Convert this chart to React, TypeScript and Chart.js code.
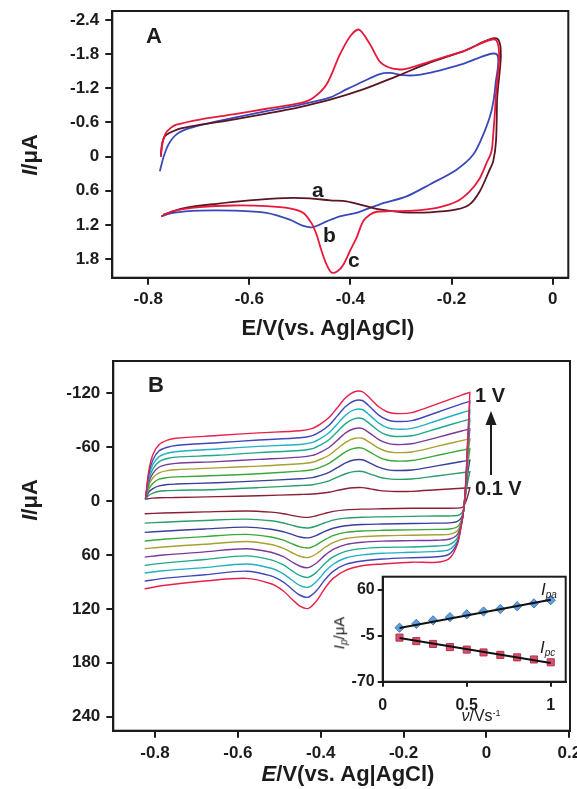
import React, { useEffect, useRef } from "react";
import { Chart, registerables } from "chart.js";

Chart.register(...registerables);

const FONT = "'Liberation Sans', Arial, Helvetica, sans-serif";
const INK = "#1c1c1c";

// ================= Panel A =================
const A_X_TICKS = [-0.8, -0.6, -0.4, -0.2, 0];
const A_X_TICK_LABELS = ["-0.8", "-0.6", "-0.4", "-0.2", "0"];
const A_Y_TICKS = [-2.4, -1.8, -1.2, -0.6, 0, 0.6, 1.2, 1.8];
const A_Y_TICK_LABELS = ["-2.4", "-1.8", "-1.2", "-0.6", "0", "0.6", "1.2", "1.8"];

// curve a (dark)
const A_a_E = [-0.775, -0.773, -0.767, -0.744, -0.715, -0.632, -0.566, -0.5, -0.44, -0.375, -0.309, -0.243, -0.177, -0.1076,
  -0.110, -0.112, -0.1175, -0.126, -0.144, -0.164, -0.190, -0.243, -0.296, -0.342, -0.375, -0.408, -0.44, -0.48, -0.53, -0.60, -0.665, -0.731, -0.770];
const A_a_I = [0, -0.2, -0.36, -0.47, -0.53, -0.65, -0.755, -0.87, -1.0, -1.18, -1.41, -1.65, -1.85, -2.056,
  -0.97, -0.27, 0.08, 0.26, 0.61, 0.84, 0.93, 0.98, 0.98, 0.93, 0.856, 0.786, 0.77, 0.735, 0.73, 0.77, 0.83, 0.91, 1.02];
// curve b (blue)
const A_b_E = [-0.777, -0.770, -0.760, -0.744, -0.718, -0.632, -0.566, -0.5, -0.44, -0.408, -0.375, -0.342, -0.322, -0.296, -0.269, -0.229, -0.177, -0.111,
  -0.113, -0.121, -0.137, -0.157, -0.190, -0.243, -0.289, -0.342, -0.388, -0.421, -0.447, -0.474, -0.493, -0.520, -0.566, -0.632, -0.698, -0.751, -0.774];
const A_b_I = [0.26, 0.02, -0.21, -0.39, -0.50, -0.68, -0.80, -0.91, -1.04, -1.18, -1.32, -1.45, -1.47, -1.43, -1.43, -1.50, -1.63, -1.80,
  -1.27, -0.80, -0.39, -0.035, 0.23, 0.49, 0.70, 0.84, 0.99, 1.05, 1.14, 1.24, 1.22, 1.11, 0.99, 0.95, 0.95, 0.99, 1.05];
// curve c (red)
const A_c_E = [-0.775, -0.772, -0.766, -0.756, -0.744, -0.698, -0.632, -0.566, -0.5, -0.474, -0.447, -0.421, -0.40, -0.383, -0.361, -0.342, -0.325, -0.302, -0.282, -0.243, -0.177, -0.111,
  -0.113, -0.1175, -0.121, -0.131, -0.144, -0.164, -0.190, -0.229, -0.276, -0.322, -0.348, -0.361, -0.375, -0.388, -0.401, -0.414, -0.425, -0.437, -0.447, -0.457, -0.467, -0.477, -0.493, -0.520, -0.566, -0.632, -0.698, -0.751, -0.774];
const A_c_I = [0, -0.22, -0.40, -0.50, -0.56, -0.65, -0.74, -0.84, -0.94, -1.03, -1.27, -1.79, -2.12, -2.23, -1.97, -1.67, -1.57, -1.53, -1.56, -1.67, -1.85, -2.04,
  -0.97, -0.39, -0.09, 0.12, 0.38, 0.61, 0.79, 0.90, 0.95, 0.96, 0.97, 1.02, 1.14, 1.43, 1.66, 1.90, 2.01, 2.04, 1.90, 1.66, 1.37, 1.17, 0.99, 0.91, 0.87, 0.86, 0.89, 0.96, 1.05];
const A_NAMES = ["c", "a", "b"];
const A_COLORS = ["#e8183c", "#5a1520", "#3a48b8"];

// ================= Panel B =================
const B_X_TICKS = [-0.8, -0.6, -0.4, -0.2, 0, 0.2];
const B_X_TICK_LABELS = ["-0.8", "-0.6", "-0.4", "-0.2", "0", "0.2"];
const B_Y_TICKS = [-120, -60, 0, 60, 120, 180, 240];
const B_Y_TICK_LABELS = ["-120", "-60", "0", "60", "120", "180", "240"];
const B_SCAN_RATES = ["0.1", "0.2", "0.3", "0.4", "0.5", "0.6", "0.7", "0.8", "0.9", "1.0"];
const B_COLORS = ["#8b2035", "#2a9e6a", "#3a3f9a", "#3aa83a", "#a8a030", "#7a3a9a", "#1fa88a", "#22b0c4", "#4048b8", "#e8204a"];

const B_E_FWD = [-0.823, -0.815, -0.805, -0.79, -0.77, -0.75, -0.65, -0.55, -0.45, -0.42, -0.40, -0.38, -0.36, -0.34, -0.32, -0.30, -0.28, -0.26, -0.24, -0.22, -0.18, -0.12, -0.06, -0.04];
const B_E_REV = [-0.04, -0.045, -0.05, -0.055, -0.06, -0.07, -0.09, -0.12, -0.18, -0.25, -0.30, -0.34, -0.37, -0.39, -0.41, -0.43, -0.45, -0.47, -0.49, -0.52, -0.58, -0.68, -0.78, -0.825];

const B_FWD_01 = [-2, -2.8, -3.3, -3.7, -3.9, -4, -5, -6, -7.4, -7.9, -8.7, -9.9, -11.9, -13.8, -14.9, -15.0, -13.6, -12.0, -11.1, -10.7, -10.9, -12.6, -14.3, -14.8];
const B_FWD_02 = [-2, -6.5, -9, -11, -11.7, -12, -13, -15, -17.4, -18.3, -20.1, -22.6, -26.6, -30.5, -32.8, -33.0, -30.1, -26.9, -25.0, -24.2, -24.6, -28.0, -31.6, -32.7];
const B_FWD_03 = [-2, -10, -14, -17, -18.5, -19, -20.5, -22.5, -24.9, -26.2, -28.6, -32.0, -37.3, -42.6, -45.8, -46.0, -42.1, -37.8, -35.1, -34.1, -34.6, -39.2, -44.1, -45.5];
const B_FWD_04 = [-2, -13.5, -20, -24.5, -26.2, -27, -28.5, -30.5, -33.4, -34.9, -37.9, -42.0, -48.4, -54.9, -58.7, -59.0, -54.3, -49.0, -45.8, -44.6, -45.2, -50.8, -56.6, -58.4];
const B_FWD_05 = [-2, -17.5, -26, -31.5, -34, -35, -37, -39, -41.6, -43.3, -46.6, -51.1, -58.3, -65.4, -69.7, -70.0, -64.8, -58.9, -55.3, -54.0, -54.7, -60.9, -67.4, -69.3];
const B_FWD_06 = [-2, -21, -31, -38, -40.8, -42, -44, -46.5, -49, -50.9, -54.6, -59.7, -67.8, -75.9, -80.6, -81.0, -75.1, -68.5, -64.5, -63.0, -63.8, -70.7, -78.1, -80.3];
const B_FWD_07 = [-2, -24, -36, -44, -47.5, -49, -51, -54, -56.4, -58.5, -62.6, -68.3, -77.3, -86.3, -91.6, -92.0, -85.5, -78.1, -73.6, -72.0, -72.8, -80.6, -88.8, -91.2];
const B_FWD_08 = [-2, -27, -41, -49.5, -53.3, -55, -58, -61, -63.1, -65.4, -69.9, -76.1, -85.9, -95.7, -101.5, -102.0, -94.9, -86.8, -81.9, -80.1, -81.0, -89.5, -98.4, -101.1];
const B_FWD_09 = [-2, -30.5, -46, -56, -60, -62, -65, -68, -70.5, -73.0, -77.7, -84.4, -94.9, -105.3, -111.5, -112.0, -104.4, -95.8, -90.6, -88.7, -89.6, -98.7, -108.2, -111.1];
const B_FWD_10 = [-3, -34, -52, -63, -68, -70, -73, -76, -78.4, -81, -86, -93, -104, -115, -121.5, -122, -114, -105, -99.5, -97.5, -98.5, -108, -118, -121];

const B_REV_01 = [-14.8, -6, 1, 5.5, 7.2, 7.8, 8, 8, 8, 8.5, 8.9, 9.7, 11.4, 13.6, 16.3, 18.1, 17.5, 15.9, 14.0, 12.3, 11, 12, 13.3, 14];
const B_REV_02 = [-32.7, -22, -7, 8, 13.5, 16, 16.5, 16.5, 17, 17.5, 17.9, 18.9, 21.2, 24.1, 27.7, 29.9, 29.1, 26.8, 24.3, 21.9, 20, 21.5, 23.5, 24.5];
const B_REV_03 = [-45.5, -32, -10, 9, 18, 22.5, 24.2, 24.5, 25, 25.5, 26.0, 27.4, 30.2, 33.7, 38.2, 40.9, 39.9, 37.1, 34.1, 31.3, 29, 31, 33.5, 34.8];
const B_REV_04 = [-58.4, -40, -12, 10, 21, 28.5, 31, 31.5, 32, 32.5, 33.2, 34.8, 38.4, 42.9, 48.6, 52.1, 50.9, 47.4, 43.5, 39.9, 37, 39.5, 42.5, 44.5];
const B_REV_05 = [-69.3, -48, -14, 10, 23, 33, 37, 37.5, 38, 38.5, 39.5, 41.6, 46.1, 51.6, 58.6, 62.8, 61.4, 57.2, 52.6, 48.3, 45, 48, 51, 53];
const B_REV_06 = [-80.3, -55, -16, 10, 24, 37, 42.5, 43.5, 44, 44.5, 45.8, 48.4, 53.8, 60.4, 68.9, 74.0, 72.5, 67.5, 61.9, 56.9, 53, 56.5, 60, 62.3];
const B_REV_07 = [-91.2, -60, -18, 10, 25, 41, 48.5, 50, 51, 51.5, 52.9, 55.9, 62.0, 69.4, 79.0, 84.9, 83.0, 77.3, 71.1, 65.4, 61, 65, 69, 71.6];
const B_REV_08 = [-101.1, -65, -20, 10, 25, 44, 54, 56, 57, 58, 59.8, 63.3, 70.3, 78.7, 89.4, 95.9, 94.0, 87.8, 80.9, 74.7, 70, 74, 77.5, 80.1];
const B_REV_09 = [-111.1, -70, -20, 10, 25, 46, 59, 62, 63, 64.5, 66.6, 70.4, 78.2, 87.6, 99.6, 107.0, 104.8, 97.8, 90.1, 83.2, 78, 82, 86, 89.1];
const B_REV_10 = [-121, -70, -20, 10, 25, 48, 64, 68, 68, 70, 72, 77, 86, 97, 111, 119.5, 117, 109, 100, 92, 86, 89, 94, 97.6];

const B_FWD = [B_FWD_01, B_FWD_02, B_FWD_03, B_FWD_04, B_FWD_05, B_FWD_06, B_FWD_07, B_FWD_08, B_FWD_09, B_FWD_10];
const B_REV = [B_REV_01, B_REV_02, B_REV_03, B_REV_04, B_REV_05, B_REV_06, B_REV_07, B_REV_08, B_REV_09, B_REV_10];

// ================= Inset =================
const IN_X_TICKS = [0, 0.5, 1];
const IN_X_TICK_LABELS = ["0", "0.5", "1"];
const IN_Y_TICKS = [-70, -5, 60];
const IN_Y_TICK_LABELS = ["-70", "-5", "60"];
const IN_V = [0.1, 0.2, 0.3, 0.4, 0.5, 0.6, 0.7, 0.8, 0.9, 1.0];
const IN_IPA = [6.5, 12, 17, 21.5, 25.5, 29.5, 33, 37, 41, 45.5];
const IN_IPC = [-7.5, -12.5, -16.5, -21, -24.5, -28.5, -32, -35.5, -38.5, -42.5];
const IN_FIT_V = [0.1, 1.0];
const IN_FIT_IPA = [6, 46];
const IN_FIT_IPC = [-8, -43.5];

// ================= helpers =================
const framePlugin = {
  id: "frame",
  afterDraw(chart: any) {
    const { ctx, chartArea: a } = chart;
    ctx.save();
    ctx.strokeStyle = INK;
    ctx.lineWidth = 2;
    ctx.strokeRect(a.left, a.top, a.right - a.left, a.bottom - a.top);
    ctx.restore();
  },
};

function setTicks(values: number[]) {
  return (scale: any) => {
    scale.ticks = values.map((v) => ({ value: v }));
  };
}
function fixSize(prop: "width" | "height", size: number) {
  return (scale: any) => {
    scale[prop] = size;
    scale.paddingLeft = 0;
    scale.paddingRight = 0;
    scale.paddingTop = 0;
    scale.paddingBottom = 0;
  };
}
function axis(opts: {
  min: number; max: number; ticks: number[]; labels: string[]; size: number; fit: ["width" | "height", number];
  tickLength: number; padding: number; reverse?: boolean;
}) {
  return {
    type: "linear",
    min: opts.min,
    max: opts.max,
    reverse: !!opts.reverse,
    afterBuildTicks: setTicks(opts.ticks),
    afterFit: fixSize(opts.fit[0], opts.fit[1]),
    grid: { display: true, drawOnChartArea: false, drawTicks: true, tickLength: opts.tickLength, tickWidth: 2, tickColor: INK, color: INK, lineWidth: 2 },
    border: { display: true, color: INK, width: 2 },
    ticks: {
      color: INK,
      font: { family: FONT, size: opts.size, weight: "bold" },
      autoSkip: false,
      maxRotation: 0,
      minRotation: 0,
      padding: opts.padding,
      callback: (_v: any, i: number) => opts.labels[i],
    },
  };
}
const baseOptions = {
  animation: false,
  responsive: false,
  devicePixelRatio: 1,
  events: [],
  plugins: { legend: { display: false }, tooltip: { enabled: false } },
};

function buildA() {
  const curves = [
    { E: A_c_E, I: A_c_I },
    { E: A_a_E, I: A_a_I },
    { E: A_b_E, I: A_b_I },
  ];
  const datasets = curves.map((c, k) => ({
    label: A_NAMES[k],
    data: c.E.map((x, j) => ({ x, y: c.I[j] })),
    borderColor: A_COLORS[k],
    borderWidth: 1.8,
    pointRadius: 0,
    tension: 0.3,
    fill: false,
  }));
  return {
    type: "line",
    data: { datasets },
    options: {
      ...baseOptions,
      layout: { padding: { top: 11, right: 8.7, left: 0, bottom: 0 } },
      scales: {
        x: axis({ min: -0.871, max: 0.031, ticks: A_X_TICKS, labels: A_X_TICK_LABELS, size: 17, fit: ["height", 62.3], tickLength: 7, padding: 4 }),
        y: axis({ min: -2.558, max: 2.129, reverse: true, ticks: A_Y_TICKS, labels: A_Y_TICK_LABELS, size: 17, fit: ["width", 112.3], tickLength: 7, padding: 6 }),
      },
    },
    plugins: [framePlugin],
  };
}

const ARROW = { x: 491, yTail: 475, yTip: 411 };
const B_TOP = 340;

function buildB() {
  const order = [9, 8, 7, 6, 5, 4, 3, 2, 1, 0];
  const datasets = order.map((i) => ({
    label: B_SCAN_RATES[i] + " V/s",
    data: [
      ...B_E_FWD.map((x, j) => ({ x, y: B_FWD[i][j] })),
      ...B_E_REV.map((x, j) => ({ x, y: B_REV[i][j] })),
    ],
    borderColor: B_COLORS[i],
    borderWidth: 1.4,
    pointRadius: 0,
    tension: 0.3,
    fill: false,
  }));
  const arrowPlugin = {
    id: "arrow",
    afterDraw(chart: any) {
      const ctx = chart.ctx;
      ctx.save();
      ctx.strokeStyle = INK;
      ctx.fillStyle = INK;
      ctx.lineWidth = 2;
      ctx.beginPath();
      ctx.moveTo(ARROW.x, ARROW.yTail - B_TOP);
      ctx.lineTo(ARROW.x, ARROW.yTip + 12 - B_TOP);
      ctx.stroke();
      ctx.beginPath();
      ctx.moveTo(ARROW.x, ARROW.yTip - B_TOP);
      ctx.lineTo(ARROW.x - 5.5, ARROW.yTip + 14 - B_TOP);
      ctx.lineTo(ARROW.x + 5.5, ARROW.yTip + 14 - B_TOP);
      ctx.closePath();
      ctx.fill();
      ctx.restore();
    },
  };
  return {
    type: "line",
    data: { datasets },
    options: {
      ...baseOptions,
      layout: { padding: { top: 21, right: 7, left: 0, bottom: 0 } },
      scales: {
        x: axis({ min: -0.9007, max: 0.2017, ticks: B_X_TICKS, labels: B_X_TICK_LABELS, size: 17, fit: ["height", 58.3], tickLength: 7, padding: 5 }),
        y: axis({ min: -156, max: 255.6, reverse: true, ticks: B_Y_TICKS, labels: B_Y_TICK_LABELS, size: 17, fit: ["width", 113.3], tickLength: 7, padding: 6 }),
      },
    },
    plugins: [framePlugin, arrowPlugin],
  };
}

function buildInset() {
  const datasets = [
    { label: "fit pa", data: IN_FIT_V.map((x, j) => ({ x, y: IN_FIT_IPA[j] })), borderColor: "#111", borderWidth: 2, pointRadius: 0 },
    { label: "fit pc", data: IN_FIT_V.map((x, j) => ({ x, y: IN_FIT_IPC[j] })), borderColor: "#111", borderWidth: 2, pointRadius: 0 },
    {
      label: "Ipa", data: IN_V.map((x, j) => ({ x, y: IN_IPA[j] })), showLine: false,
      pointStyle: "rectRot", pointRadius: 4.6, pointBackgroundColor: "#5f9fdc", pointBorderColor: "#3c78b8", pointBorderWidth: 1,
    },
    {
      label: "Ipc", data: IN_V.map((x, j) => ({ x, y: IN_IPC[j] })), showLine: false,
      pointStyle: "rect", pointRadius: 5, pointBackgroundColor: "#d8506c", pointBorderColor: "#b43454", pointBorderWidth: 1,
    },
  ];
  return {
    type: "line",
    data: { datasets },
    options: {
      ...baseOptions,
      layout: { padding: { top: 8.7, right: 9.3, left: 0, bottom: 0 } },
      scales: {
        x: axis({ min: 0, max: 1.089, ticks: IN_X_TICKS, labels: IN_X_TICK_LABELS, size: 16, fit: ["height", 46.3], tickLength: 5, padding: 9 }),
        y: axis({ min: -70, max: 78.8, ticks: IN_Y_TICKS, labels: IN_Y_TICK_LABELS, size: 16, fit: ["width", 52.7], tickLength: 5, padding: 3 }),
      },
    },
    plugins: [framePlugin],
  };
}

function ChartCanvas(props: { left: number; top: number; width: number; height: number; build: () => any }) {
  const ref = useRef<HTMLCanvasElement | null>(null);
  useEffect(() => {
    const chart = new Chart(ref.current as HTMLCanvasElement, props.build());
    return () => chart.destroy();
  }, []);
  return (
    <canvas
      ref={ref}
      width={props.width}
      height={props.height}
      style={{ position: "absolute", left: props.left, top: props.top, width: props.width, height: props.height }}
    />
  );
}

// text placed by baseline
function T(props: { x: number; base: number; size: number; bold?: boolean; center?: boolean; children: any }) {
  return (
    <div
      style={{
        position: "absolute",
        left: props.x,
        top: props.base - 0.8465 * props.size,
        fontSize: props.size,
        lineHeight: 1,
        fontWeight: props.bold === false ? 400 : 700,
        whiteSpace: "nowrap",
        transform: props.center ? "translateX(-50%)" : undefined,
      }}
    >
      {props.children}
    </div>
  );
}
function RotT(props: { cx: number; cy: number; size: number; bold?: boolean; children: any }) {
  return (
    <div
      style={{
        position: "absolute",
        left: props.cx,
        top: props.cy,
        fontSize: props.size,
        lineHeight: 1,
        fontWeight: props.bold === false ? 400 : 700,
        whiteSpace: "nowrap",
        transform: "translate(-50%, -50%) rotate(-90deg)",
      }}
    >
      {props.children}
    </div>
  );
}

export default function App() {
  return (
    <div style={{ position: "absolute", left: 0, top: 0, width: 577, height: 789, background: "#fff", overflow: "hidden", fontFamily: FONT, color: INK }}>
      <ChartCanvas left={0} top={0} width={577} height={340} build={buildA} />
      <ChartCanvas left={0} top={340} width={577} height={449} build={buildB} />
      <ChartCanvas left={330} top={568} width={245} height={160} build={buildInset} />

      {/* Panel A texts */}
      <T x={146} base={44} size={22}>A</T>
      <T x={312} base={197} size={21}>a</T>
      <T x={323} base={242} size={21}>b</T>
      <T x={348} base={267} size={21}>c</T>
      <T x={328} base={336} size={22} center>E/V(vs. Ag|AgCl)</T>
      <RotT cx={30} cy={155} size={22}><i>I</i>/μA</RotT>

      {/* Panel B texts */}
      <T x={148} base={393} size={22}>B</T>
      <T x={475} base={402} size={20}>1 V</T>
      <T x={475} base={495} size={20}>0.1 V</T>
      <T x={348} base={782} size={22} center><i>E</i>/V(vs. Ag|AgCl)</T>
      <RotT cx={30} cy={500} size={22}><i>I</i>/μA</RotT>

      {/* Inset texts */}
      <RotT cx={340} cy={633} size={15} bold={false}>
        <i>I</i><sub style={{ fontSize: 10, verticalAlign: "-0.25em" }}><i>p</i></sub>/μA
      </RotT>
      <T x={481} base={722} size={16} bold={false} center><i>ν</i>/Vs<sup style={{ fontSize: 9, verticalAlign: "0.55em" }}>-1</sup></T>
      <T x={541} base={595} size={17} bold={false}><i>I</i><sub style={{ fontSize: 10, verticalAlign: "-0.3em" }}><i>pa</i></sub></T>
      <T x={540} base={653} size={17} bold={false}><i>I</i><sub style={{ fontSize: 10, verticalAlign: "-0.3em" }}><i>pc</i></sub></T>
    </div>
  );
}
